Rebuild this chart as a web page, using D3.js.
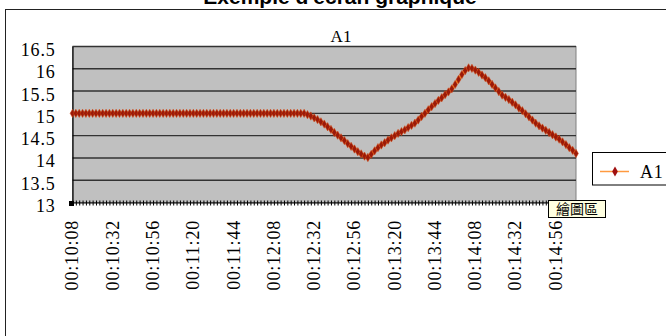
<!DOCTYPE html>
<html>
<head>
<meta charset="utf-8">
<script src="https://cdn.jsdelivr.net/npm/d3@7"></script>
<style>
  body { margin: 0; background: #fff; }
  svg { display: block; }
</style>
</head>
<body>
<svg id="chart" width="666" height="336"></svg>
<script>
// ---- data ----
const pageTitle = "Exemple d'écran graphique";
const chartTitle = "A1";
const seriesName = "A1";
const startTime = "00:10:08";
const stepSeconds = 2;
const values = [
  15,15,15,15,15,15,15,15,15,15,
  15,15,15,15,15,15,15,15,15,15,
  15,15,15,15,15,15,15,15,15,15,
  15,15,15,15,15,15,15,15,15,15,
  15,15,15,15,15,15,15,15,15,15,
  15,15,15,15,15,15,15,15,15,15,
  15,15,15,15,15,15,15,15,15,15,
  14.97,14.94,14.90,14.86,14.81,14.76,14.70,14.64,14.57,14.51,
  14.45,14.39,14.32,14.26,14.20,14.14,14.09,14.04,14.01,14.08,
  14.16,14.23,14.29,14.34,14.40,14.45,14.50,14.55,14.59,14.63,
  14.68,14.73,14.78,14.85,14.93,15.00,15.08,15.15,15.22,15.29,
  15.35,15.42,15.48,15.55,15.65,15.76,15.87,15.96,16.02,16.01,
  15.97,15.92,15.86,15.80,15.73,15.65,15.57,15.49,15.41,15.36,
  15.31,15.25,15.19,15.12,15.06,14.99,14.92,14.85,14.78,14.72,
  14.67,14.62,14.57,14.52,14.47,14.42,14.36,14.30,14.23,14.17,
  14.10
];
const xTickLabels = ["00:10:08","00:10:32","00:10:56","00:11:20","00:11:44","00:12:08",
  "00:12:32","00:12:56","00:13:20","00:13:44","00:14:08","00:14:32","00:14:56"];
const yTicks = [13, 13.5, 14, 14.5, 15, 15.5, 16, 16.5];
const tooltipText = "繪圖區";

// categories: one timestamp per sample
const parseT = d3.timeParse("%H:%M:%S");
const fmtT = d3.timeFormat("%H:%M:%S");
const t0 = parseT(startTime);
const categories = values.map((v, i) => fmtT(d3.timeSecond.offset(t0, i * stepSeconds)));
const data = values.map((v, i) => ({ c: categories[i], v }));

// ---- layout ----
const svg = d3.select("#chart");
const L = 72.5, R = 576, T = 46.5, B = 202.5;
const serif = "'Liberation Serif', 'Times New Roman', serif";

const x = d3.scalePoint().domain(categories).range([L, R]).padding(0);
const y = d3.scaleLinear().domain([13, 16.5]).range([B, T]);

// chart area frame
svg.append("line").attr("x1", 5).attr("x2", 666).attr("y1", 9.5).attr("y2", 9.5)
  .attr("stroke", "#222").attr("stroke-width", 1);
svg.append("line").attr("x1", 5.5).attr("x2", 5.5).attr("y1", 9.5).attr("y2", 336)
  .attr("stroke", "#222").attr("stroke-width", 1);

// page title
svg.append("text").attr("x", 340).attr("y", 4).attr("text-anchor", "middle")
  .attr("font-family", "'Liberation Sans', Arial, sans-serif").attr("font-weight", "bold")
  .attr("font-size", 21).attr("fill", "#000").text(pageTitle);

// chart title
svg.append("text").attr("x", 341).attr("y", 42).attr("text-anchor", "middle")
  .attr("font-family", serif).attr("font-size", 17).attr("fill", "#000").text(chartTitle);

// plot background
svg.append("rect").attr("x", L).attr("y", T).attr("width", R - L).attr("height", B - T)
  .attr("fill", "#c0c0c0").attr("stroke", "#808080").attr("stroke-width", 1);

// gridlines
svg.append("g").selectAll("line").data(yTicks.filter(d => d > 13)).join("line")
  .attr("x1", L).attr("x2", R).attr("y1", d => y(d)).attr("y2", d => y(d))
  .attr("stroke", "#333").attr("stroke-width", 1.4);

// y axis
const yAxis = svg.append("g").attr("transform", `translate(${L},0)`)
  .call(d3.axisLeft(y).tickValues(yTicks).tickSize(0).tickPadding(17).tickFormat(d3.format("")));
yAxis.select(".domain").attr("stroke", "#000").attr("stroke-width", 1.2);
yAxis.selectAll("text").attr("font-family", serif).attr("font-size", 18)
  .attr("letter-spacing", 0.8).attr("fill", "#000").attr("dy", "0.5em");

// x axis: dense category ticks
const xAxis = svg.append("g").attr("transform", `translate(0,${B})`)
  .call(d3.axisBottom(x).tickValues(categories).tickSize(3).tickFormat(""));
xAxis.select(".domain").attr("stroke", "#000").attr("stroke-width", 1.2);
xAxis.selectAll(".tick line").attr("stroke", "#000").attr("y1", -2).attr("stroke-width", 1);

// x axis labels
const xLab = svg.append("g").attr("transform", `translate(0,${B})`)
  .call(d3.axisBottom(x).tickValues(xTickLabels).tickSize(0));
xLab.select(".domain").remove();
xLab.selectAll("text")
  .attr("transform", "rotate(-90)")
  .attr("x", -17.5).attr("y", 0).attr("dy", "0.3em")
  .attr("text-anchor", "end")
  .attr("font-family", serif).attr("font-size", 18).attr("letter-spacing", 0.8)
  .attr("fill", "#000");

// series line
svg.append("path").datum(data)
  .attr("d", d3.line().x(d => x(d.c)).y(d => y(d.v)))
  .attr("fill", "none").attr("stroke", "#ff8a1e").attr("stroke-width", 3);

// markers
svg.append("g").selectAll("path").data(data).join("path")
  .attr("transform", d => `translate(${x(d.c)},${y(d.v)})`)
  .attr("d", d3.symbol(d3.symbolDiamond, 20))
  .attr("fill", "#9a1a0a").attr("stroke", "#d84a10").attr("stroke-width", 0.5);

// origin handle
svg.append("rect").attr("x", 69).attr("y", 201).attr("width", 5).attr("height", 5).attr("fill", "#000");

// tooltip
const tip = svg.append("g");
tip.append("rect").attr("x", 548.5).attr("y", 200.5).attr("width", 57).attr("height", 17)
  .attr("fill", "#ffffe1").attr("stroke", "#000").attr("stroke-width", 1);
tip.append("text").attr("x", 577).attr("y", 214).attr("text-anchor", "middle")
  .attr("font-family", "'Noto Sans CJK TC', 'Noto Sans CJK SC', sans-serif")
  .attr("font-size", 14).attr("fill", "#000").text(tooltipText);

// legend
const lg = svg.append("g");
lg.append("rect").attr("x", 592.5).attr("y", 152.5).attr("width", 100).attr("height", 32.5)
  .attr("fill", "#fff").attr("stroke", "#000").attr("stroke-width", 1);
lg.append("line").attr("x1", 600).attr("x2", 629).attr("y1", 171.5).attr("y2", 171.5)
  .attr("stroke", "#ff9a40").attr("stroke-width", 1.5);
lg.append("path").attr("transform", "translate(615,171.5)")
  .attr("d", d3.symbol(d3.symbolDiamond, 28)).attr("fill", "#a01010");
lg.append("text").attr("x", 640).attr("y", 178).attr("font-family", serif)
  .attr("font-size", 18).attr("letter-spacing", 0.8).attr("fill", "#000").text(seriesName);
</script>
</body>
</html>
